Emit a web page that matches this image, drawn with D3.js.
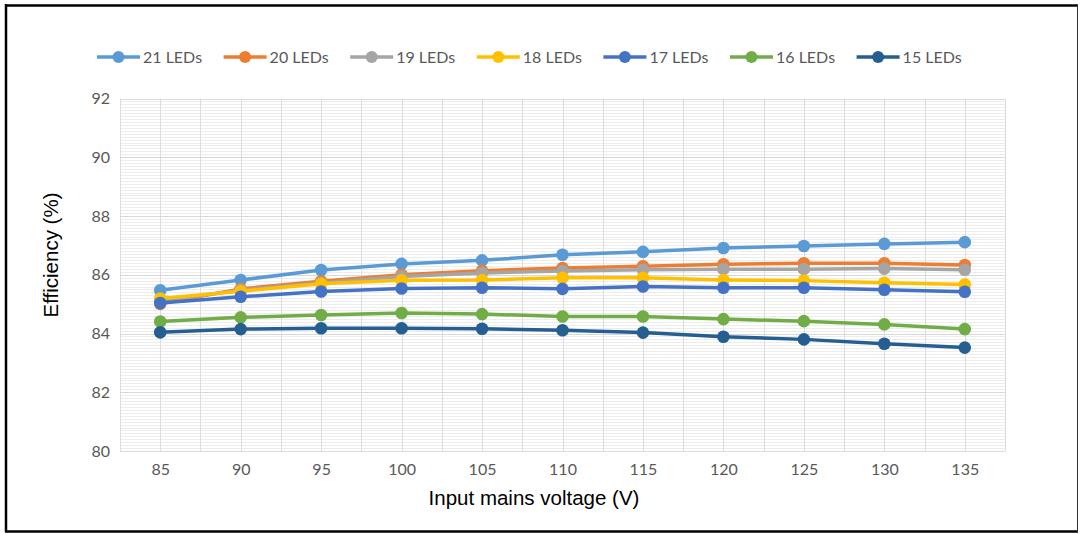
<!DOCTYPE html>
<html>
<head>
<meta charset="utf-8">
<script src="https://cdn.jsdelivr.net/npm/d3@7"></script>
<style>
  html, body { margin: 0; padding: 0; background: #fff; }
  svg { display: block; }
</style>
</head>
<body>
<svg id="chart" width="1080" height="534"></svg>
<script>
// Input mains voltage (V)
const voltages = [85, 90, 95, 100, 105, 110, 115, 120, 125, 130, 135];

// Efficiency (%) per LED count
const led21 = [85.47, 85.82, 86.16, 86.37, 86.49, 86.68, 86.78, 86.91, 86.98, 87.05, 87.11];
const led20 = [85.01, 85.52, 85.78, 86.00, 86.14, 86.23, 86.29, 86.36, 86.39, 86.39, 86.33];
const led19 = [85.10, 85.48, 85.72, 85.94, 86.06, 86.13, 86.17, 86.19, 86.19, 86.21, 86.17];
const led18 = [85.19, 85.44, 85.69, 85.81, 85.82, 85.90, 85.90, 85.82, 85.80, 85.73, 85.67];
const led17 = [85.04, 85.25, 85.43, 85.53, 85.56, 85.52, 85.60, 85.56, 85.56, 85.49, 85.42];
const led16 = [84.41, 84.55, 84.63, 84.70, 84.66, 84.58, 84.58, 84.49, 84.42, 84.31, 84.15];
const led15 = [84.04, 84.15, 84.18, 84.18, 84.16, 84.11, 84.03, 83.89, 83.80, 83.65, 83.52];

const seriesNames = ["21 LEDs", "20 LEDs", "19 LEDs", "18 LEDs", "17 LEDs", "16 LEDs", "15 LEDs"];
const seriesValues = [led21, led20, led19, led18, led17, led16, led15];
const seriesColors = ["#5B9BD5", "#ED7D31", "#A5A5A5", "#FFC000", "#4472C4", "#70AD47", "#255E91"];

const yTicks = [80, 82, 84, 86, 88, 90, 92];

const svg = d3.select("#chart");

// plot area bounds
const plotLeft = 120, plotRight = 1005, plotTop = 98.5, plotBottom = 451;

const x = d3.scalePoint().domain(voltages).range([plotLeft, plotRight]).padding(0.5);
const y = d3.scaleLinear().domain([80, 92]).range([plotBottom, plotTop]);

// outer frame
svg.append("line").attr("x1", 5).attr("x2", 1078).attr("y1", 5.5).attr("y2", 5.5)
  .attr("stroke", "#000").attr("stroke-width", 2.5);
svg.append("line").attr("x1", 6).attr("x2", 6).attr("y1", 4).attr("y2", 532)
  .attr("stroke", "#000").attr("stroke-width", 2.5);
svg.append("line").attr("x1", 5).attr("x2", 1078).attr("y1", 531.5).attr("y2", 531.5)
  .attr("stroke", "#000").attr("stroke-width", 2.5);
svg.append("line").attr("x1", 1077.5).attr("x2", 1077.5).attr("y1", 5).attr("y2", 532)
  .attr("stroke", "#333").attr("stroke-width", 1);

// minor horizontal gridlines
const minor = d3.range(80, 92.001, 0.1);
svg.append("g").selectAll("line").data(minor).join("line")
  .attr("x1", plotLeft).attr("x2", plotRight)
  .attr("y1", d => Math.round(y(d)) + 0.5).attr("y2", d => Math.round(y(d)) + 0.5)
  .attr("stroke", "#ededed").attr("stroke-width", 1);

// vertical gridlines at category centres and boundaries
const step = x.step();
const vLines = [];
voltages.forEach(v => { vLines.push(x(v) - step / 2); vLines.push(x(v)); });
vLines.push(plotRight);
svg.append("g").selectAll("line").data(vLines).join("line")
  .attr("x1", d => Math.round(d) + 0.5).attr("x2", d => Math.round(d) + 0.5)
  .attr("y1", plotTop).attr("y2", plotBottom)
  .attr("stroke", "#dcdcdc").attr("stroke-width", 1);

// major horizontal gridlines
svg.append("g").selectAll("line").data(yTicks).join("line")
  .attr("x1", plotLeft).attr("x2", plotRight)
  .attr("y1", d => Math.round(y(d)) + 0.5).attr("y2", d => Math.round(y(d)) + 0.5)
  .attr("stroke", "#d9d9d9").attr("stroke-width", 1);

// y axis labels
const yAxis = d3.axisLeft(y).tickValues(yTicks).tickSize(0).tickPadding(10);
const gy = svg.append("g").attr("transform", `translate(${plotLeft},0)`).call(yAxis);
gy.select(".domain").remove();
gy.selectAll("text").attr("font-family", "Lato, 'Open Sans', sans-serif")
  .attr("font-size", 16).attr("fill", "#595959");

// x axis labels
const xAxis = d3.axisBottom(x).tickSize(0).tickPadding(13);
const gx = svg.append("g").attr("transform", `translate(0,${plotBottom})`).call(xAxis);
gx.select(".domain").remove();
gx.selectAll("text").attr("font-family", "Lato, 'Open Sans', sans-serif")
  .attr("font-size", 16).attr("fill", "#595959");

// axis titles
svg.append("text")
  .attr("transform", "translate(58,255) rotate(-90)")
  .attr("text-anchor", "middle")
  .attr("font-family", "'Liberation Sans', Arial, sans-serif")
  .attr("font-size", 20.5).attr("fill", "#000")
  .text("Efficiency (%)");

svg.append("text")
  .attr("x", 534).attr("y", 505)
  .attr("text-anchor", "middle")
  .attr("font-family", "'Liberation Sans', Arial, sans-serif")
  .attr("font-size", 20.5).attr("fill", "#000")
  .text("Input mains voltage (V)");

// series
const line = d3.line().x((d, i) => x(voltages[i])).y(d => y(d));
seriesValues.forEach((vals, s) => {
  const g = svg.append("g");
  g.append("path").datum(vals)
    .attr("d", line).attr("fill", "none")
    .attr("stroke", seriesColors[s]).attr("stroke-width", 3.5)
    .attr("stroke-linejoin", "round").attr("stroke-linecap", "round");
  g.selectAll("circle").data(vals).join("circle")
    .attr("cx", (d, i) => x(voltages[i])).attr("cy", d => y(d))
    .attr("r", 6.3).attr("fill", seriesColors[s]);
});

// legend
const legend = svg.append("g").attr("transform", "translate(97,57)");
seriesNames.forEach((name, s) => {
  const g = legend.append("g").attr("transform", `translate(${s * 126.6},0)`);
  g.append("line").attr("x1", 0).attr("x2", 43).attr("y1", 0).attr("y2", 0)
    .attr("stroke", seriesColors[s]).attr("stroke-width", 3.5);
  g.append("circle").attr("cx", 21.5).attr("cy", 0).attr("r", 6).attr("fill", seriesColors[s]);
  g.append("text").attr("x", 46).attr("y", 0).attr("dy", "0.35em")
    .attr("font-family", "Lato, 'Open Sans', sans-serif")
    .attr("font-size", 16).attr("fill", "#595959")
    .text(name);
});
</script>
</body>
</html>
